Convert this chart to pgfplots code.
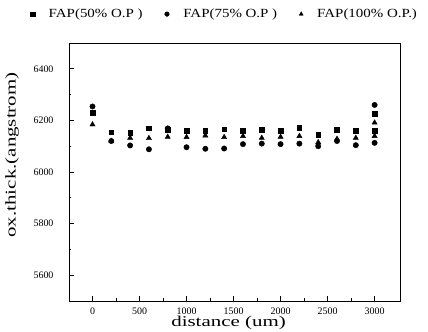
\documentclass[border=0pt]{standalone}
\usepackage{fontspec}
\setmainfont{Liberation Serif}
\newfontfamily\labelfont[FakeStretch=1.4]{Liberation Serif}
\newfontfamily\legendfont[FakeStretch=1.2]{Liberation Serif}
\usepackage{pgfplots}
\pgfplotsset{compat=1.18}
\begin{document}
\begin{tikzpicture}
\begin{axis}[
  scale only axis, width=331bp, height=258bp,
  xmin=-250, xmax=3270, ymin=5500, ymax=6500,
  xtick={0,500,...,3000}, minor x tick num=1,
  ytick={5600,5800,...,6400}, minor y tick num=1,
  tick align=inside, xtick pos=bottom, ytick pos=left,
  major tick length=5bp, minor tick length=2.5bp,
  axis line style={line width=0.9bp}, tick style={line width=0.8bp, black},
  /pgf/number format/assume math mode=true,
  /pgf/number format/set thousands separator={},
  tick label style={font=\fontsize{10}{12}\selectfont},
  yticklabel style={xshift=-12bp},
  xticklabel style={yshift=-3bp},
  xlabel={distance (um)}, ylabel={ox.thick.(angstrom)},
  xlabel style={font=\fontsize{15}{18}\labelfont, at={(axis description cs:0.482,-0.086)}, anchor=center},
  ylabel style={font=\fontsize{15}{18}\labelfont, at={(axis description cs:-0.172,0.566)}, anchor=center},
  legend columns=3,
  legend style={draw=none, fill=none, inner sep=0pt, at={(axis description cs:-0.118,1.112)}, anchor=west,
    font=\fontsize{12.5}{14}\legendfont,
    /tikz/every odd column/.append style={column sep=12bp},
    /tikz/every even column/.append style={column sep=20bp}},
  legend image code/.code={\draw[#1, mark repeat=2, mark phase=1, mark size=2.3bp] plot coordinates {(0cm,0cm) (0.3cm,0cm)};},
]
\addplot[only marks, mark=square*, mark size=2.3bp, black] coordinates {
(0,6230) (200,6154) (400,6153) (600,6169) (800,6165) (1000,6161) (1200,6160) (1400,6166)
(1600,6160) (1800,6165) (2000,6161) (2200,6171) (2400,6145) (2600,6165) (2800,6161) (3000,6226) (3000,6161)};
\addlegendentry{FAP(50\% O.P )}
\addplot[only marks, mark=*, mark size=2.7bp, black] coordinates {
(0,6254) (200,6120) (400,6103) (600,6088) (800,6169) (1000,6096) (1200,6090) (1400,6091)
(1600,6108) (1800,6110) (2000,6108) (2200,6110) (2400,6100) (2600,6120) (2800,6104) (3000,6260) (3000,6113)};
\addlegendentry{FAP(75\% O.P )}
\addplot[only marks, mark=triangle*, mark size=3bp, black] coordinates {
(0,6184) (200,6120) (400,6132) (600,6131) (800,6136) (1000,6135) (1200,6141) (1400,6135)
(1600,6139) (1800,6132) (2000,6136) (2200,6139) (2400,6115) (2600,6128) (2800,6132) (3000,6191) (3000,6139)};
\addlegendentry{FAP(100\% O.P.)}
\end{axis}
\pgfresetboundingbox
\path (current axis.south west) ++(-69bp,-31bp) rectangle ([shift={(28bp,43bp)}]current axis.north east);
\end{tikzpicture}
\end{document}
